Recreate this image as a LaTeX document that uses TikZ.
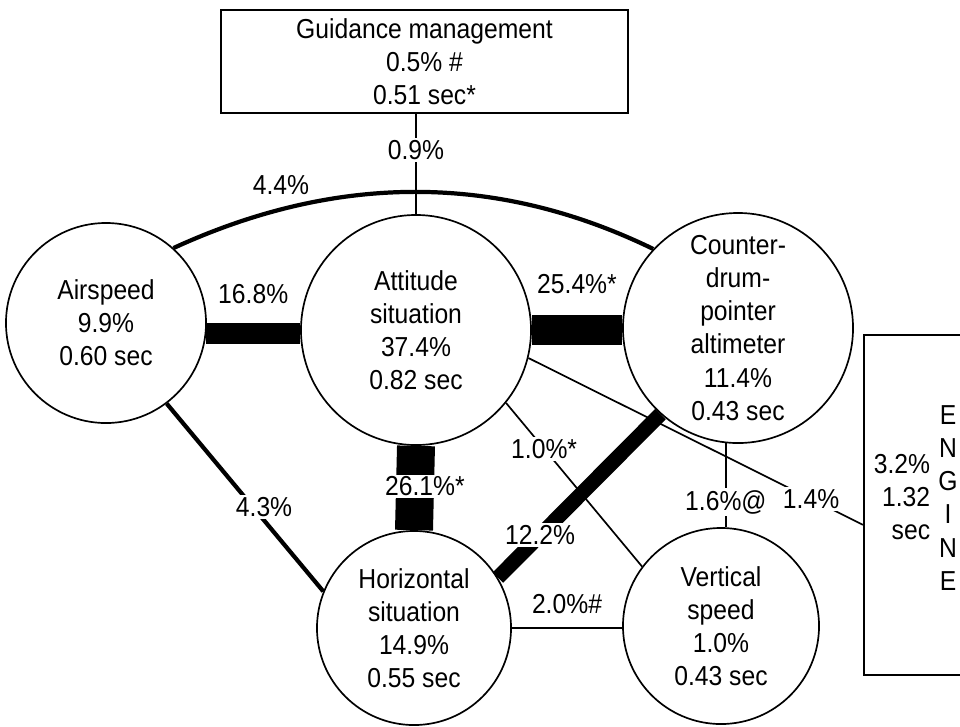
\documentclass[tikz,border=0pt]{standalone}
\usepackage{fontspec}
\setmainfont{Liberation Sans}[FakeStretch=0.9]

\begin{document}
\begin{tikzpicture}[x=0.025cm, y=-0.025cm, font=\fontsize{19.5}{23.5}\selectfont]
            \tikzset{circ/.style = {circle, draw, line width=1.2pt, inner sep=0pt, align=center}}
            \tikzset{box/.style = {rectangle, draw, line width=1.5pt, inner sep=0pt, align=center}}
            \tikzset{lbl/.style = {fill=white, inner sep=1.5pt}}
            \tikzset{link/.style = {line width=1.2pt}}
            \clip (0,0) rectangle (960,726);
            
            \node[box, minimum width=10.175cm, minimum height=2.575cm] (gm) at (424.5,61.5) {Guidance management\\0.5\% \#\\0.51 sec*};
            \node[box, minimum width=3.4cm, minimum height=8.5cm] (eng) at (932,505) {};
            \node[align=right] (engval) at (902,497) {3.2\%\\1.32\\sec};
            \node[align=center] (engname) at (948,498) {E\\N\\G\\I\\N\\E};
            
            \node[circ, minimum size=5cm] (air) at (106,323) {Airspeed\\9.9\%\\0.60 sec};
            \node[circ, minimum size=5.75cm] (att) at (416,330) {Attitude\\situation\\37.4\%\\0.82 sec};
            \node[circ, minimum size=5.75cm] (cdp) at (738,328) {Counter-\\drum-\\pointer\\altimeter\\11.4\%\\0.43 sec};
            \node[circ, minimum size=4.85cm] (hor) at (414,628) {Horizontal\\situation\\14.9\%\\0.55 sec};
            \node[circ, minimum size=4.9cm] (vs) at (721,626) {Vertical\\speed\\1.0\%\\0.43 sec};
            
            \draw[link] (att.north |- gm.south) -- node[lbl, pos=0.36] (l09) {0.9\%} (att.north);
            \draw[line width=3pt] (air.48) .. controls (337,173) and (497,173) .. (cdp.137);
            \node (l44) at (281,185) {4.4\%};
            
            \draw[line width=15pt] (air.-6) -- node[above=10pt] (l168) {16.8\%} (air.-6 -| att.west);
            \draw[line width=21pt] (att.east) -- node[above=12pt] (l254) {25.4\%*} (att.east -| cdp.west);
            \draw[line width=27pt] (att.south) -- node[lbl, pos=0.48, xshift=7pt] (l261) {26.1\%*} (hor.north);
            \draw[line width=10.5pt] (hor.31) -- node[lbl, pos=0.26] (l122) {12.2\%} (cdp.228);
            
            \draw[line width=3pt] (air.-53) -- node[lbl, pos=0.55, xshift=8pt] (l43) {4.3\%} (hor.158);
            \draw[line width=2pt] (hor.east) -- node[above=6pt] (l20) {2.0\%\#} (hor.east -| vs.west);
            \draw[link] (att.-39) -- node[lbl, pos=0.28] (l10) {1.0\%*} (vs.143);
            \draw[link] (cdp.264) -- node[lbl, pos=0.7] (l16) {1.6\%@} (cdp.264 |- vs.north);
            \draw[link] (att.-14) -- node[lbl, pos=0.845] (l14) {1.4\%} (eng.196);
            
        \end{tikzpicture}
\end{document}
